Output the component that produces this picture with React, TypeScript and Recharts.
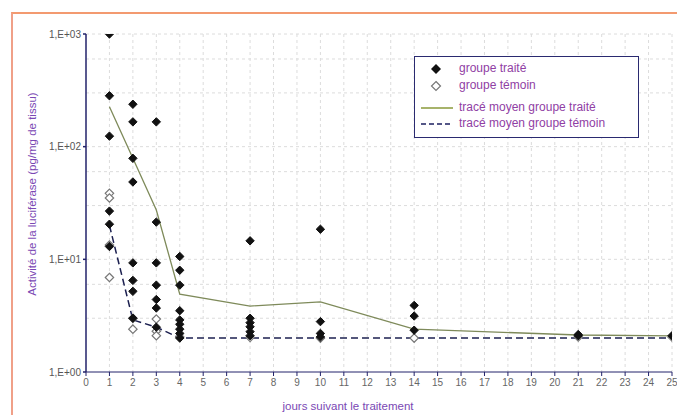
import React from 'react';
import {
  ComposedChart,
  Line,
  Scatter,
  XAxis,
  YAxis,
  CartesianGrid,
} from 'recharts';

const jours = [1, 2, 3, 4, 7, 10, 14, 21, 25];

// valeurs individuelles, une liste par jour
const traiteValeurs = [
  [1000, 283, 124, 26.8, 20.5, 13],
  [238, 166, 78.8, 48.6, 9.3, 6.5, 5.2, 3.0],
  [166, 21.4, 9.3, 5.9, 4.4, 3.7, 2.5],
  [10.6, 8.0, 5.9, 3.5, 2.9, 2.65, 2.4, 2.2, 2.0],
  [14.6, 3.0, 2.74, 2.52, 2.28, 2.1],
  [18.5, 2.8, 2.2, 2.05],
  [3.9, 3.14, 2.35],
  [2.15, 2.1],
  [2.1],
];
const temoinValeurs = [
  [38.5, 35, 13.4, 6.9],
  [3.0, 2.4],
  [2.95, 2.3, 2.1],
  [2.05],
  [2.03],
  [2.0],
  [2.0],
  [2.05],
  [2.05],
];

const moyenneTraite = [226, 79, 27.4, 4.9, 3.85, 4.2, 2.4, 2.13, 2.09];
const moyenneTemoin = [20, 2.9, 2.5, 2.0, 2.0, 2.0, 2.0, 2.0, 2.0];

const xTicks = [0, 1, 2, 3, 4, 5, 6, 7, 8, 9, 10, 11, 12, 13, 14, 15, 16, 17, 18, 19, 20, 21, 22, 23, 24, 25];
const yTicks = [1, 10, 100, 1000];
const yGrid = [2, 3, 4, 5, 6, 7, 8, 9, 10, 20, 30, 40, 50, 60, 70, 80, 90, 100, 200, 300, 400, 500, 600, 700, 800, 900, 1000];

const pointsTraite = jours.flatMap((j, i) => traiteValeurs[i].map((v) => ({ x: j, y: v })));
const pointsTemoin = jours.flatMap((j, i) => temoinValeurs[i].map((v) => ({ x: j, y: v })));
const ligneTraite = jours.map((j, i) => ({ x: j, y: moyenneTraite[i] }));
const ligneTemoin = jours.map((j, i) => ({ x: j, y: moyenneTemoin[i] }));

const FONT = '"Liberation Sans", Arial, sans-serif';
const LABEL_COLOR = '#7a48b4';
const LEGEND_COLOR = '#9040a4';

const diamondPath = (cx: number, cy: number, r: number) =>
  `M${cx},${cy - r}L${cx + r},${cy}L${cx},${cy + r}L${cx - r},${cy}Z`;

const FilledDiamond = (props: any) => (
  <path d={diamondPath(props.cx, props.cy, 4.2)} fill="#111" stroke="#111" strokeWidth={1} />
);
const OpenDiamond = (props: any) => (
  <path d={diamondPath(props.cx, props.cy, 4.2)} fill="#fff" stroke="#777" strokeWidth={1.2} />
);

const Legende = () => (
  <div
    style={{
      position: 'absolute',
      left: 414,
      top: 56,
      width: 223,
      height: 80,
      border: '1px solid #2a2a70',
      background: '#fff',
      fontFamily: FONT,
      fontSize: 12,
      color: LEGEND_COLOR,
    }}
  >
    <svg width={223} height={80} style={{ position: 'absolute', left: 0, top: 0 }}>
      <path d={diamondPath(21, 12, 5)} fill="#111" />
      <path d={diamondPath(21, 29, 4.5)} fill="#fff" stroke="#777" strokeWidth={1.2} />
      <line x1={6} x2={38} y1={51} y2={51} stroke="#8a9a3a" strokeWidth={1.5} />
      <line x1={6} x2={38} y1={67} y2={67} stroke="#1c2060" strokeWidth={1.5} strokeDasharray="5 3" />
    </svg>
    <div style={{ position: 'absolute', left: 44, top: 4 }}>groupe traité</div>
    <div style={{ position: 'absolute', left: 44, top: 21 }}>groupe témoin</div>
    <div style={{ position: 'absolute', left: 44, top: 43 }}>tracé moyen groupe traité</div>
    <div style={{ position: 'absolute', left: 44, top: 59 }}>tracé moyen groupe témoin</div>
  </div>
);

export default function App() {
  return (
    <div style={{ position: 'fixed', left: 0, top: 0, width: 677, height: 415, background: '#fff', overflow: 'hidden' }}>
      <div
        style={{
          position: 'absolute',
          left: 11,
          top: 12,
          width: 720,
          height: 460,
          borderTop: '2px solid #f39a70',
          borderLeft: '2px solid #f0a088',
        }}
      />
      <ComposedChart
        width={677}
        height={415}
        margin={{ top: 34, right: 5, bottom: 13, left: 0 }}
        style={{ position: 'absolute', left: 0, top: 0 }}
      >
        <CartesianGrid
          stroke="#dcdcdc"
          strokeDasharray="3 3"
          horizontalValues={yGrid}
          verticalValues={xTicks.slice(1)}
        />
        <XAxis
          type="number"
          dataKey="x"
          domain={[0, 25]}
          ticks={xTicks}
          interval={0}
          allowDataOverflow
          height={30}
          tickSize={4}
          tickMargin={3}
          stroke="#22226a"
          tick={{ fill: '#666', fontSize: 10, fontFamily: FONT }}
        />
        <YAxis
          type="number"
          dataKey="y"
          scale="log"
          domain={[1, 1000]}
          ticks={yTicks}
          allowDataOverflow
          width={86}
          tickSize={3}
          tickMargin={2}
          stroke="#22226a"
          strokeWidth={1.5}
          tick={{ fill: '#555', fontSize: 10, fontFamily: FONT }}
          tickFormatter={(v: number) => `1,E+0${Math.round(Math.log10(v))}`}
        />
        <Line
          data={ligneTraite}
          dataKey="y"
          type="linear"
          stroke="#7e8a5a"
          strokeWidth={1.3}
          dot={false}
          isAnimationActive={false}
        />
        <Line
          data={ligneTemoin}
          dataKey="y"
          type="linear"
          stroke="#1c2050"
          strokeWidth={1.5}
          strokeDasharray="7 4"
          dot={false}
          isAnimationActive={false}
        />
        <Scatter data={pointsTemoin} dataKey="y" shape={OpenDiamond} isAnimationActive={false} />
        <Scatter data={pointsTraite} dataKey="y" shape={FilledDiamond} isAnimationActive={false} />
      </ComposedChart>
      <Legende />
      <div
        style={{
          position: 'absolute',
          left: 32,
          top: 194,
          transform: 'translate(-50%, -50%) rotate(-90deg)',
          whiteSpace: 'nowrap',
          fontFamily: FONT,
          fontSize: 11.5,
          color: LABEL_COLOR,
        }}
      >
        Activité de la luciférase (pg/mg de tissu)
      </div>
      <div
        style={{
          position: 'absolute',
          left: 348,
          top: 406,
          transform: 'translate(-50%, -50%)',
          whiteSpace: 'nowrap',
          fontFamily: FONT,
          fontSize: 11.5,
          color: LABEL_COLOR,
        }}
      >
        jours suivant le traitement
      </div>
    </div>
  );
}
